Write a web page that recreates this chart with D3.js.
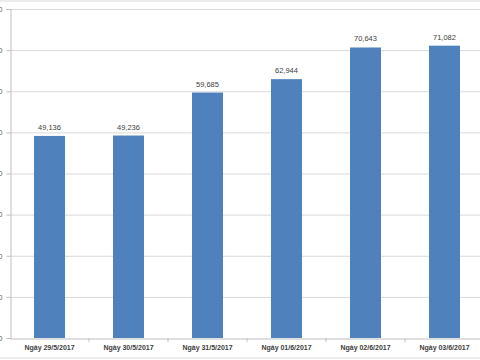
<!DOCTYPE html>
<html><head><meta charset="utf-8">
<script src="https://cdn.jsdelivr.net/npm/d3@7"></script>
<style>body{margin:0;background:#fff}svg{display:block}</style>
</head><body><svg width="480" height="360"></svg>
<script>
const categories = ["Ngày 29/5/2017","Ngày 30/5/2017","Ngày 31/5/2017","Ngày 01/6/2017","Ngày 02/6/2017","Ngày 03/6/2017"];
const values = [49136, 49236, 59685, 62944, 70643, 71082];
const valueLabels = ["49,136","49,236","59,685","62,944","70,643","71,082"];
const yTicks = [0,10000,20000,30000,40000,50000,60000,70000,80000];

const svg = d3.select("svg");
svg.append("rect").attr("x",-5).attr("y",1).attr("width",490).attr("height",357)
  .attr("fill","#fff").attr("stroke","#d9d9d9").attr("stroke-width",1);

const pLeft = 10, pRight = 484, pTop = 9, pBottom = 338;
const x = d3.scaleBand().domain(categories).range([pLeft,pRight]).paddingInner(0.6076).paddingOuter(0.3038);
const y = d3.scaleLinear().domain([0,80000]).range([pBottom,pTop]);

// gridlines
svg.append("g").selectAll("line").data(yTicks.slice(1)).join("line")
  .attr("x1",pLeft).attr("x2",480).attr("y1",d=>y(d)+0.5).attr("y2",d=>y(d)+0.5)
  .attr("stroke","#d9d9d9").attr("stroke-width",1);

// y axis
const ya = svg.append("g").attr("transform",`translate(${pLeft+0.5},0)`)
  .call(d3.axisLeft(y).tickValues(yTicks).tickSize(4).tickFormat(d3.format(",")));
ya.select(".domain").attr("stroke","#bfbfbf");
ya.selectAll(".tick line").attr("stroke","#bfbfbf");
ya.selectAll(".tick text").attr("x",-8).attr("fill","#595959")
  .style("font-family","Liberation Sans, Arial, sans-serif").style("font-size","7px");

// bars
svg.append("g").selectAll("rect").data(values).join("rect")
  .attr("x",(d,i)=>x(categories[i])).attr("width",x.bandwidth())
  .attr("y",d=>y(d)).attr("height",d=>pBottom-y(d)).attr("fill","#4f81bd");

// x axis
const xa = svg.append("g").attr("transform",`translate(0,${pBottom+0.5})`)
  .call(d3.axisBottom(x).tickSize(0).tickPadding(10));
xa.select(".domain").attr("stroke","#bfbfbf");
xa.selectAll(".tick text").attr("fill","#404040").attr("dy","0.35em").attr("y",9)
  .style("font-family","Liberation Sans, Arial, sans-serif").style("font-size","7px").style("font-weight","bold");
// category separator ticks
svg.append("g").selectAll("line").data(d3.range(1,categories.length)).join("line")
  .attr("x1",i=>pLeft+i*x.step()).attr("x2",i=>pLeft+i*x.step())
  .attr("y1",pBottom).attr("y2",pBottom+4).attr("stroke","#bfbfbf");

// value labels
svg.append("g").selectAll("text").data(values).join("text")
  .attr("x",(d,i)=>x(categories[i])+x.bandwidth()/2).attr("y",d=>y(d)-6)
  .attr("text-anchor","middle").attr("fill","#404040")
  .style("font-family","Liberation Sans, Arial, sans-serif").style("font-size","7.5px")
  .text((d,i)=>valueLabels[i]);
</script></body></html>
